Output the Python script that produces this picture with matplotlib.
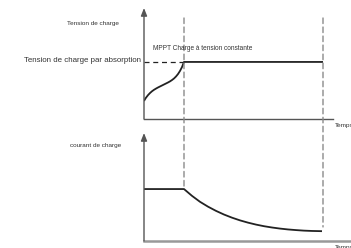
import matplotlib
matplotlib.use('Agg')
import matplotlib.pyplot as plt
from matplotlib.patches import ConnectionPatch

plt.rcParams['font.family'] = ['Liberation Sans', 'DejaVu Sans']

# --- Data (time in arbitrary units, values in % of axis height) ---
t_mppt_end = 1.0
t_end = 4.475

# charge voltage: MPPT rise then constant absorption voltage
t_volt = [0.0, 0.025, 0.05, 0.1, 0.15, 0.2, 0.25, 0.3, 0.35, 0.4, 0.45,
          0.5, 0.55, 0.6, 0.65, 0.7, 0.75, 0.8, 0.85, 0.9, 0.95, 0.975,
          1.0, 4.475]
volt = [16.2, 17.8, 19.2, 21.5, 23.4, 25.0, 26.3, 27.4, 28.4, 29.3, 30.2,
        31.1, 32.0, 32.9, 33.9, 35.1, 36.5, 38.3, 40.5, 43.3, 46.8, 49.2,
        51.4, 51.4]
v_absorption = 51.4

# charge current: constant during MPPT then decaying
t_curr = [0.0, 1.0, 1.2, 1.4, 1.6, 1.8, 2.0, 2.2, 2.4, 2.6, 2.8, 3.0,
          3.2, 3.4, 3.6, 3.8, 4.0, 4.2, 4.45]
curr = [48.1, 48.1, 41.8, 36.3, 31.8, 27.9, 24.5, 21.6, 19.1, 17.0, 15.2,
        13.7, 12.5, 11.5, 10.7, 10.1, 9.6, 9.3, 9.1]

W, H = 351, 248
fig = plt.figure(figsize=(W / 100, H / 100), dpi=100)
fig.patch.set_facecolor('white')

x0 = 144
xmax = (W - x0) / 40.0
ax_v = fig.add_axes([x0 / W, 1 - 119 / H, (W - x0) / W, 111 / H])
ax_i = fig.add_axes([x0 / W, 1 - 241 / H, (W - x0) / W, 108 / H])

axis_col = '#555555'
line_col = '#222222'
dash_col = '#8a8a8a'
text_col = '#333333'

for ax in (ax_v, ax_i):
    ax.set_xlim(0, xmax)
    ax.set_ylim(0, 100)
    ax.axis('off')
    # vertical axis with arrow head
    ax.annotate('', xy=(0, 100), xytext=(0, 0), xycoords='data',
                arrowprops=dict(arrowstyle='-|>,head_length=0.45,head_width=0.18',
                                color=axis_col, lw=1.0, shrinkA=0, shrinkB=0),
                annotation_clip=False)

# horizontal axes
ax_v.plot([0, 4.725], [0, 0], color=axis_col, lw=1.0, clip_on=False)
ax_i.plot([0, xmax], [0, 0], color='#999999', lw=1.8, clip_on=False)

# curves
ax_v.plot(t_volt, volt, color=line_col, lw=1.3, solid_capstyle='butt',
          solid_joinstyle='round')
ax_i.plot(t_curr, curr, color=line_col, lw=1.3, solid_capstyle='butt',
          solid_joinstyle='round')

# absorption voltage dashed level
ax_v.plot([0, t_mppt_end], [v_absorption, v_absorption], color=line_col,
          lw=0.9, dashes=(4, 3))

# phase separators crossing both panels
for t, y_bot in [(t_mppt_end, 49.5), (t_end, 13.0)]:
    con = ConnectionPatch(xyA=(t, 91), coordsA=ax_v.transData,
                          xyB=(t, y_bot), coordsB=ax_i.transData,
                          color=dash_col, lw=1.0, linestyle=(0, (4, 2.5)))
    fig.add_artist(con)

# labels
fig.text(93 / W, 1 - 23 / H, 'Tension de charge', fontsize=4.6, color=text_col,
         ha='center', va='center')
fig.text(141 / W, 1 - 61 / H, 'Tension de charge par absorption', fontsize=5.7,
         color=text_col, ha='right', va='center')
fig.text(153 / W, 1 - 48 / H, 'MPPT Charge à tension constante', fontsize=4.7,
         color=text_col, ha='left', va='center')
fig.text(335 / W, 1 - 125 / H, 'Temps', fontsize=4.6, color=text_col,
         ha='left', va='center')
fig.text(96 / W, 1 - 145 / H, 'courant de charge', fontsize=4.6, color=text_col,
         ha='center', va='center')
fig.text(335 / W, 1 - 248 / H, 'Temps', fontsize=4.6, color=text_col,
         ha='left', va='center')

fig.savefig('out.png', dpi=100)
